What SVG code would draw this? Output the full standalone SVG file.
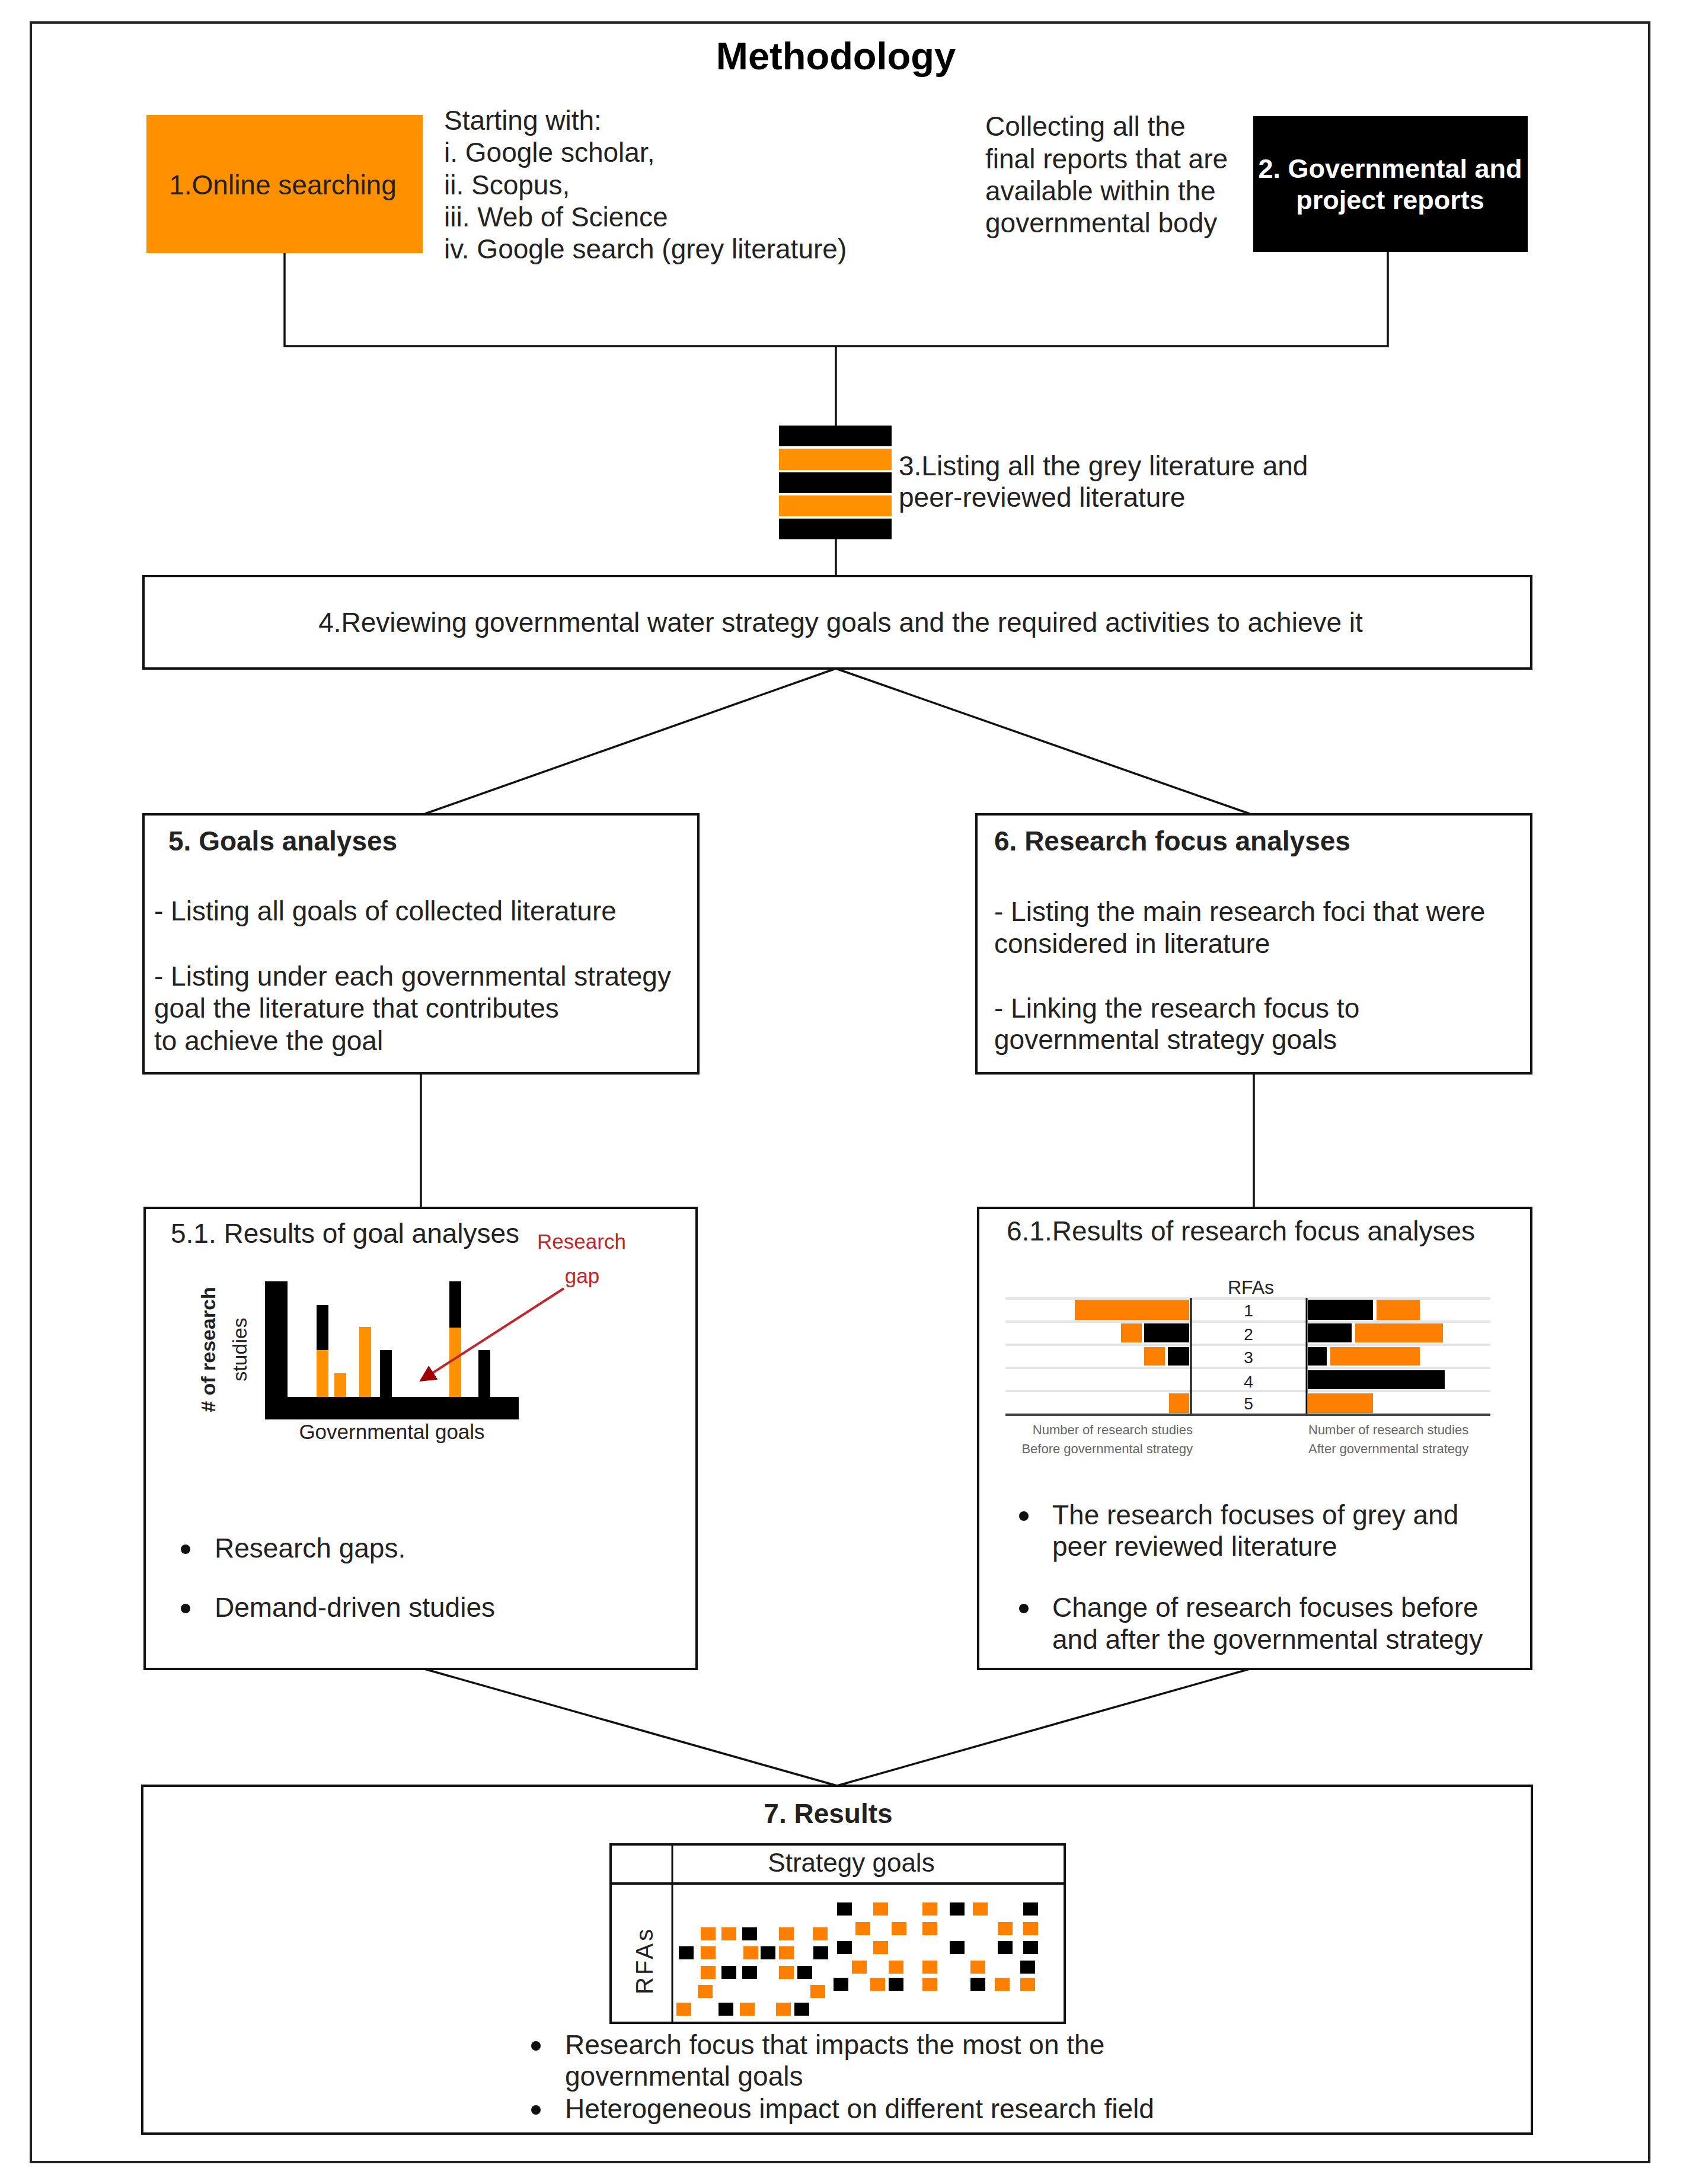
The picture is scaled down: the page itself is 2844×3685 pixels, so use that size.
<svg xmlns="http://www.w3.org/2000/svg" width="2844" height="3685" viewBox="0 0 2844 3685">
<style>
text{font-family:"Liberation Sans",Arial,sans-serif;fill:#222}
.t{font-size:46px}
.b{font-size:46px;font-weight:bold}
.box{fill:#fff;stroke:#111;stroke-width:4}
.ln{stroke:#111;stroke-width:3.5;fill:none}
.o{fill:#FF9100}
.o2{fill:#FF8000}
.k{fill:#000}
.sm{font-size:22px;fill:#666}
.row{stroke:#e4e4e4;stroke-width:4}
</style>
<defs>
<marker id="ah" viewBox="0 0 10 10" refX="8" refY="5" markerWidth="7" markerHeight="7" orient="auto" markerUnits="strokeWidth">
<path d="M0,0 L10,5 L0,10 Z" fill="#A00000"/>
</marker>
</defs>
<rect x="0" y="0" width="2844" height="3685" fill="#fff"/>
<rect x="52" y="38" width="2730" height="3610" fill="none" stroke="#222" stroke-width="4"/>
<text x="1410" y="117" text-anchor="middle" style="font-size:65px;font-weight:bold;fill:#000">Methodology</text>

<g id="connectors">
<polyline class="ln" points="480,427 480,584 2341,584 2341,425"/>
<line class="ln" x1="1410" y1="584" x2="1410" y2="718"/>
<line class="ln" x1="1410" y1="910" x2="1410" y2="971"/>
<line class="ln" x1="1410" y1="1128" x2="717" y2="1373"/>
<line class="ln" x1="1410" y1="1128" x2="2108" y2="1373"/>
<line class="ln" x1="710" y1="1810" x2="710" y2="2038"/>
<line class="ln" x1="2115" y1="1810" x2="2115" y2="2038"/>
<line class="ln" x1="716" y1="2816" x2="1412" y2="3013"/>
<line class="ln" x1="2108" y1="2816" x2="1412" y2="3013"/>
</g>

<g id="n1">
<rect x="247" y="194" width="466" height="233" fill="#FF9100"/>
<text class="t" x="477" y="328" text-anchor="middle">1.Online searching</text>
</g>
<g id="n1-note">
<text class="t" x="749" y="219">Starting with:</text>
<text class="t" x="749" y="273">i. Google scholar,</text>
<text class="t" x="749" y="328">ii. Scopus,</text>
<text class="t" x="749" y="382">iii. Web of Science</text>
<text class="t" x="749" y="436">iv. Google search (grey literature)</text>
</g>

<g id="n2">
<rect x="2114" y="196" width="463" height="229" fill="#000"/>
<text x="2345" y="300" text-anchor="middle" style="font-size:45px;font-weight:bold;fill:#fff">2. Governmental and</text>
<text x="2345" y="353" text-anchor="middle" style="font-size:45px;font-weight:bold;fill:#fff">project reports</text>
</g>
<g id="n2-note">
<text class="t" x="1662" y="229">Collecting all the</text>
<text class="t" x="1662" y="284">final reports that are</text>
<text class="t" x="1662" y="338">available within the</text>
<text class="t" x="1662" y="392">governmental body</text>
</g>

<g id="n3">
<rect x="1314" y="718" width="190" height="35" class="k"/>
<rect x="1314" y="757" width="190" height="36" class="o"/>
<rect x="1314" y="797" width="190" height="35" class="k"/>
<rect x="1314" y="836" width="190" height="35" class="o"/>
<rect x="1314" y="875" width="190" height="35" class="k"/>
<text class="t" x="1516" y="802">3.Listing all the grey literature and</text>
<text class="t" x="1516" y="855">peer-reviewed literature</text>
</g>

<g id="n4">
<rect class="box" x="242" y="972" width="2341" height="156"/>
<text class="t" x="1418" y="1066" text-anchor="middle">4.Reviewing governmental water strategy goals and the required activities to achieve it</text>
</g>

<g id="n5">
<rect class="box" x="242" y="1374" width="936" height="437"/>
<text class="b" x="284" y="1435">5. Goals analyses</text>
<text class="t" x="260" y="1553">- Listing all goals of collected literature</text>
<text class="t" x="260" y="1663">- Listing under each governmental strategy</text>
<text class="t" x="260" y="1717">goal the literature that contributes</text>
<text class="t" x="260" y="1772">to achieve the goal</text>
</g>

<g id="n6">
<rect class="box" x="1647" y="1374" width="936" height="437"/>
<text class="b" x="1677" y="1435">6. Research focus analyses</text>
<text class="t" x="1677" y="1554">- Listing the main research foci that were</text>
<text class="t" x="1677" y="1608">considered in literature</text>
<text class="t" x="1677" y="1717">- Linking the research focus to</text>
<text class="t" x="1677" y="1770">governmental strategy goals</text>
</g>

<g id="n5-1">
<rect class="box" x="244" y="2038" width="931" height="778"/>
<text class="t" x="288" y="2097">5.1. Results of goal analyses</text>
<text x="981" y="2107" text-anchor="middle" style="font-size:35px;fill:#C0262B">Research</text>
<text x="982" y="2165" text-anchor="middle" style="font-size:35px;fill:#C0262B">gap</text>
<rect x="447" y="2162" width="38" height="233" class="k"/>
<rect x="447" y="2357" width="428" height="38" class="k"/>
<rect x="534" y="2202" width="20" height="76" class="k"/>
<rect x="534" y="2278" width="20" height="79" class="o"/>
<rect x="564" y="2317" width="20" height="40" class="o"/>
<rect x="606" y="2239" width="20" height="118" class="o"/>
<rect x="641" y="2278" width="20" height="79" class="k"/>
<rect x="758" y="2162" width="20" height="78" class="k"/>
<rect x="758" y="2240" width="20" height="117" class="o"/>
<rect x="807" y="2278" width="20" height="79" class="k"/>
<line x1="951" y1="2174" x2="712" y2="2328" stroke="#C0262B" stroke-width="4" marker-end="url(#ah)"/>
<text transform="translate(363,2277) rotate(-90)" text-anchor="middle" style="font-size:34px;font-weight:bold">#  of research</text>
<text transform="translate(416,2277) rotate(-90)" text-anchor="middle" style="font-size:34px">studies</text>
<text x="661" y="2428" text-anchor="middle" style="font-size:35px">Governmental goals</text>
<circle cx="313" cy="2614" r="8" fill="#111"/>
<text class="t" x="362" y="2628">Research gaps.</text>
<circle cx="313" cy="2714" r="8" fill="#111"/>
<text class="t" x="362" y="2728">Demand-driven studies</text>
</g>

<g id="n6-1">
<rect class="box" x="1650" y="2038" width="933" height="778"/>
<text class="t" x="1698" y="2093">6.1.Results of research focus analyses</text>
<text x="2110" y="2183" text-anchor="middle" style="font-size:32px">RFAs</text>
<line class="row" x1="1696" y1="2191" x2="2514" y2="2191"/>
<line class="row" x1="1696" y1="2230" x2="2514" y2="2230"/>
<line class="row" x1="1696" y1="2269" x2="2514" y2="2269"/>
<line class="row" x1="1696" y1="2308" x2="2514" y2="2308"/>
<line class="row" x1="1696" y1="2347" x2="2514" y2="2347"/>
<rect x="1813" y="2193" width="193" height="34" class="o2"/>
<rect x="1891" y="2233" width="35" height="32" class="o2"/>
<rect x="1930" y="2233" width="76" height="32" class="k"/>
<rect x="1930" y="2273" width="35" height="31" class="o2"/>
<rect x="1970" y="2273" width="36" height="31" class="k"/>
<rect x="1972" y="2351" width="34" height="33" class="o2"/>
<rect x="2206" y="2193" width="110" height="34" class="k"/>
<rect x="2322" y="2193" width="73" height="34" class="o2"/>
<rect x="2206" y="2233" width="74" height="32" class="k"/>
<rect x="2286" y="2233" width="148" height="32" class="o2"/>
<rect x="2206" y="2273" width="32" height="31" class="k"/>
<rect x="2244" y="2273" width="151" height="31" class="o2"/>
<rect x="2206" y="2312" width="231" height="32" class="k"/>
<rect x="2206" y="2351" width="110" height="33" class="o2"/>
<line x1="2009" y1="2190" x2="2009" y2="2389" stroke="#111" stroke-width="3"/>
<line x1="2204" y1="2190" x2="2204" y2="2389" stroke="#111" stroke-width="3"/>
<line x1="1696" y1="2387" x2="2514" y2="2387" stroke="#444" stroke-width="4"/>
<g style="font-size:28px" text-anchor="middle">
<text x="2106" y="2221">1</text>
<text x="2106" y="2261">2</text>
<text x="2106" y="2300">3</text>
<text x="2106" y="2341">4</text>
<text x="2106" y="2378">5</text>
</g>
<text class="sm" x="2012" y="2420" text-anchor="end">Number of research studies</text>
<text class="sm" x="2012" y="2452" text-anchor="end">Before governmental strategy</text>
<text class="sm" x="2207" y="2420">Number of research studies</text>
<text class="sm" x="2207" y="2452">After governmental strategy</text>
<circle cx="1727" cy="2558" r="8" fill="#111"/>
<text class="t" x="1775" y="2572">The research focuses of grey and</text>
<text class="t" x="1775" y="2625">peer reviewed literature</text>
<circle cx="1727" cy="2714" r="8" fill="#111"/>
<text class="t" x="1775" y="2728">Change of research focuses before</text>
<text class="t" x="1775" y="2782">and after the governmental strategy</text>
</g>

<g id="n7">
<rect class="box" x="240" y="3013" width="2344" height="587"/>
<text class="b" x="1397" y="3076" text-anchor="middle">7. Results</text>
<rect x="1030" y="3112" width="766" height="301" fill="#fff" stroke="#111" stroke-width="4"/>
<line x1="1030" y1="3178" x2="1796" y2="3178" stroke="#111" stroke-width="4"/>
<line x1="1134" y1="3112" x2="1134" y2="3413" stroke="#111" stroke-width="3"/>
<text x="1436" y="3158" text-anchor="middle" style="font-size:44px">Strategy goals</text>
<text transform="translate(1101,3308) rotate(-90)" text-anchor="middle" style="font-size:40px;letter-spacing:4px">RFAs</text>
<g id="grid">
<rect x="1412" y="3210" width="25" height="22" class="k"/>
<rect x="1473" y="3210" width="25" height="22" class="o2"/>
<rect x="1556" y="3210" width="25" height="22" class="o2"/>
<rect x="1602" y="3210" width="25" height="22" class="k"/>
<rect x="1641" y="3210" width="25" height="22" class="o2"/>
<rect x="1726" y="3210" width="25" height="22" class="k"/>
<rect x="1443" y="3243" width="25" height="22" class="o2"/>
<rect x="1504" y="3243" width="25" height="22" class="o2"/>
<rect x="1556" y="3243" width="25" height="22" class="o2"/>
<rect x="1683" y="3243" width="25" height="22" class="o2"/>
<rect x="1726" y="3243" width="25" height="22" class="o2"/>
<rect x="1182" y="3252" width="25" height="22" class="o2"/>
<rect x="1217" y="3252" width="25" height="22" class="o2"/>
<rect x="1252" y="3252" width="25" height="22" class="k"/>
<rect x="1314" y="3252" width="25" height="22" class="o2"/>
<rect x="1371" y="3252" width="25" height="22" class="o2"/>
<rect x="1145" y="3284" width="25" height="22" class="k"/>
<rect x="1182" y="3284" width="25" height="22" class="o2"/>
<rect x="1254" y="3284" width="25" height="22" class="o2"/>
<rect x="1283" y="3284" width="25" height="22" class="k"/>
<rect x="1314" y="3284" width="25" height="22" class="o2"/>
<rect x="1372" y="3284" width="25" height="22" class="k"/>
<rect x="1412" y="3275" width="25" height="22" class="k"/>
<rect x="1473" y="3275" width="25" height="22" class="o2"/>
<rect x="1602" y="3275" width="25" height="22" class="k"/>
<rect x="1683" y="3275" width="25" height="22" class="k"/>
<rect x="1726" y="3275" width="25" height="22" class="k"/>
<rect x="1182" y="3317" width="25" height="22" class="o2"/>
<rect x="1217" y="3317" width="25" height="22" class="k"/>
<rect x="1252" y="3317" width="25" height="22" class="k"/>
<rect x="1314" y="3317" width="25" height="22" class="o2"/>
<rect x="1345" y="3317" width="25" height="22" class="k"/>
<rect x="1437" y="3308" width="25" height="22" class="o2"/>
<rect x="1499" y="3308" width="25" height="22" class="o2"/>
<rect x="1556" y="3308" width="25" height="22" class="o2"/>
<rect x="1637" y="3308" width="25" height="22" class="o2"/>
<rect x="1721" y="3308" width="25" height="22" class="k"/>
<rect x="1406" y="3337" width="25" height="22" class="k"/>
<rect x="1468" y="3337" width="25" height="22" class="o2"/>
<rect x="1499" y="3337" width="25" height="22" class="k"/>
<rect x="1556" y="3337" width="25" height="22" class="o2"/>
<rect x="1637" y="3337" width="25" height="22" class="k"/>
<rect x="1678" y="3337" width="25" height="22" class="o2"/>
<rect x="1721" y="3337" width="25" height="22" class="o2"/>
<rect x="1177" y="3349" width="25" height="22" class="o2"/>
<rect x="1367" y="3349" width="25" height="22" class="o2"/>
<rect x="1141" y="3379" width="25" height="22" class="o2"/>
<rect x="1212" y="3379" width="25" height="22" class="k"/>
<rect x="1248" y="3379" width="25" height="22" class="o2"/>
<rect x="1309" y="3379" width="25" height="22" class="o2"/>
<rect x="1340" y="3379" width="25" height="22" class="k"/>
</g>
<circle cx="904" cy="3452" r="8" fill="#111"/>
<text class="t" x="953" y="3466">Research focus that impacts the most on the</text>
<text class="t" x="953" y="3519">governmental goals</text>
<circle cx="904" cy="3560" r="8" fill="#111"/>
<text class="t" x="953" y="3574">Heterogeneous impact on different research field</text>
</g>
</svg>
